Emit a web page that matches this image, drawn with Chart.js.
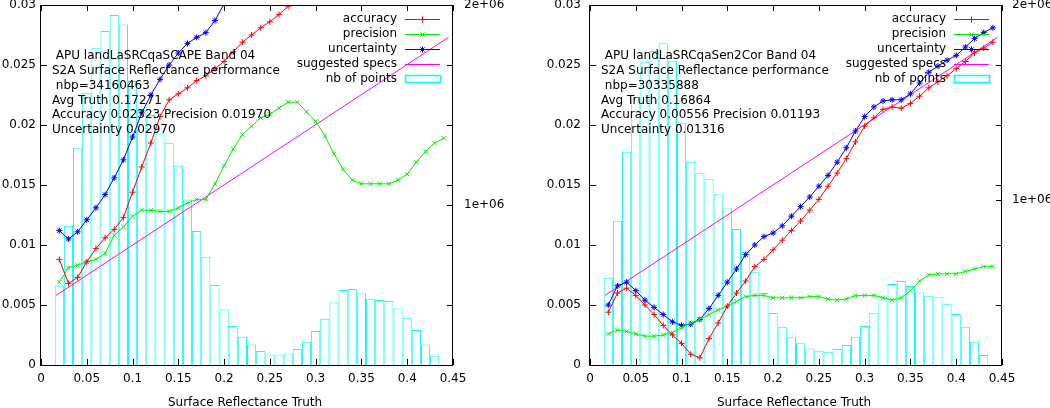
<!DOCTYPE html>
<html>
<head>
<meta charset="utf-8">
<script src="https://cdn.jsdelivr.net/npm/chart.js@4.4.1/dist/chart.umd.min.js"></script>
<style>
  html, body { margin: 0; padding: 0; background: #fff; }
  #wrap { display: flex; width: 1050px; height: 408px; }
  canvas { display: block; }
</style>
</head>
<body>
<div id="wrap">
  <canvas id="scape" width="525" height="408"></canvas>
  <canvas id="sen2cor" width="525" height="408"></canvas>
</div>
<script>
// reflectance truth (x) for the curves, and bin centres for the histogram
const truthX = [0.02, 0.03, 0.04, 0.05, 0.06, 0.07, 0.08, 0.09, 0.10, 0.11, 0.12, 0.13, 0.14, 0.15,
  0.16, 0.17, 0.18, 0.19, 0.20, 0.21, 0.22, 0.23, 0.24, 0.25, 0.26, 0.27, 0.28, 0.29, 0.30, 0.31,
  0.32, 0.33, 0.34, 0.35, 0.36, 0.37, 0.38, 0.39, 0.40, 0.41, 0.42, 0.43, 0.44];
const binX = truthX.slice(0, 42);

const xTicks = [0, 0.05, 0.1, 0.15, 0.2, 0.25, 0.3, 0.35, 0.4, 0.45];
const xTickLabels = ['0', '0.05', '0.1', '0.15', '0.2', '0.25', '0.3', '0.35', '0.4', '0.45'];
const yTicks = [0, 0.005, 0.01, 0.015, 0.02, 0.025, 0.03];
const yTickLabels = ['0', '0.005', '0.01', '0.015', '0.02', '0.025', '0.03'];
const y2Ticks = [1000000, 2000000];
const y2TickLabels = ['1e+06', '2e+06'];

const legendLabels = ['accuracy', 'precision', 'uncertainty', 'suggested specs', 'nb of points'];

// suggested specs line end points
const specX = [0.0165, 0.445];
const specY = [0.0058, 0.0273];

// --- left panel: LaSRC qa SCAPE ---
const scapeAccuracy = [0.0088, 0.0068, 0.0073, 0.0086, 0.0097, 0.0106, 0.0113, 0.0123, 0.0144, 0.0165,
  0.0185, 0.0207, 0.0221, 0.0226, 0.0231, 0.0237, 0.0241, 0.0247, 0.0253, 0.0261, 0.0269, 0.0275,
  0.0281, 0.0286, 0.0292, 0.0299, 0.0306];
const scapePrecision = [0.0069, 0.0081, 0.0083, 0.0086, 0.0088, 0.0093, 0.0108, 0.0115, 0.0124, 0.0129,
  0.0129, 0.0128, 0.0128, 0.0131, 0.0135, 0.0138, 0.0138, 0.0151, 0.0166, 0.0180, 0.0192, 0.0199,
  0.0206, 0.0209, 0.0214, 0.0219, 0.0219, 0.0211, 0.0203, 0.0191, 0.0176, 0.0163, 0.0154, 0.0151,
  0.0151, 0.0151, 0.0151, 0.0154, 0.0159, 0.0169, 0.0178, 0.0185, 0.0189];
const scapeUncertainty = [0.0112, 0.0105, 0.0111, 0.0121, 0.0131, 0.0142, 0.0156, 0.0171, 0.0190, 0.0210,
  0.0225, 0.0238, 0.0250, 0.0260, 0.0268, 0.0273, 0.0277, 0.0287, 0.0301, 0.0316];
const scapeCount = [596000, 896000, 1286000, 1561000, 1786000, 1870000, 1950000, 1903000, 1620000, 1475000,
  1450000, 1358000, 1311000, 1196000, 1028000, 870000, 741000, 600000, 478000, 395000, 341000, 303000,
  270000, 253000, 253000, 258000, 280000, 316000, 370000, 431000, 513000, 575000, 580000, 558000,
  531000, 525000, 520000, 483000, 436000, 375000, 303000, 246000];
const scapeInfo = [' APU landLaSRCqaSCAPE Band 04', 'S2A Surface Reflectance performance', ' nbp=34160463',
  'Avg Truth 0.17271', 'Accuracy 0.02323 Precision 0.01970', 'Uncertainty 0.02970'];

// --- right panel: LaSRC qa Sen2Cor ---
const sen2corAccuracy = [0.0044, 0.0060, 0.0064, 0.0058, 0.0050, 0.0042, 0.0033, 0.0025, 0.0018, 0.0009,
  0.0006, 0.0022, 0.0035, 0.0049, 0.0060, 0.0070, 0.0082, 0.0088, 0.0096, 0.0104, 0.0112, 0.0120,
  0.0129, 0.0138, 0.0149, 0.0160, 0.0172, 0.0186, 0.0199, 0.0206, 0.0213, 0.0215, 0.0214, 0.0218,
  0.0224, 0.0231, 0.0236, 0.0241, 0.0247, 0.0253, 0.0260, 0.0264, 0.0269];
const sen2corPrecision = [0.0026, 0.0029, 0.0028, 0.0026, 0.0024, 0.0024, 0.0025, 0.0027, 0.0031, 0.0035,
  0.0038, 0.0042, 0.0046, 0.0049, 0.0053, 0.0057, 0.0058, 0.0058, 0.0056, 0.0056, 0.0056, 0.0056,
  0.0057, 0.0057, 0.0055, 0.0054, 0.0055, 0.0058, 0.0058, 0.0058, 0.0056, 0.0054, 0.0056, 0.0062,
  0.0070, 0.0075, 0.0076, 0.0076, 0.0076, 0.0078, 0.0080, 0.0082, 0.0082];
const sen2corUncertainty = [0.0050, 0.0066, 0.0069, 0.0062, 0.0054, 0.0048, 0.0042, 0.0036, 0.0033, 0.0034,
  0.0038, 0.0047, 0.0058, 0.0069, 0.0080, 0.0092, 0.0100, 0.0107, 0.0110, 0.0116, 0.0124, 0.0132,
  0.0140, 0.0149, 0.0158, 0.0169, 0.0181, 0.0195, 0.0207, 0.0215, 0.0220, 0.0221, 0.0221, 0.0226,
  0.0235, 0.0244, 0.0249, 0.0254, 0.0258, 0.0265, 0.0272, 0.0277, 0.0281];
const sen2corCount = [601000, 894000, 1248000, 1516000, 1709000, 1764000, 1804000, 1714000, 1393000, 1196000,
  1137000, 1106000, 1029000, 957000, 851000, 735000, 632000, 523000, 420000, 350000, 296000, 265000,
  239000, 227000, 222000, 236000, 256000, 299000, 354000, 419000, 504000, 569000, 585000, 559000,
  525000, 509000, 504000, 465000, 415000, 350000, 273000, 205000];
const sen2corInfo = [' APU landLaSRCqaSen2Cor Band 04', 'S2A Surface Reflectance performance', ' nbp=30335888',
  'Avg Truth 0.16864', 'Accuracy 0.00556 Precision 0.01193', 'Uncertainty 0.01316'];

const FONT = { family: 'DejaVu Sans', size: 12 };
const FONT_CSS = '12px "DejaVu Sans"';
const RED = '#ff0000', GREEN = '#00ee00', BLUE = '#0000ff', MAGENTA = '#ff00ff', CYAN = '#00ffff';

Chart.defaults.color = '#000';

function pts(xs, ys) { return ys.map((v, i) => ({ x: xs[i], y: v })); }

// no label overflow padding: the plot frame is placed by the fixed box sizes
function noPad(s) { s.paddingTop = 0; s.paddingBottom = 0; s.paddingLeft = 0; s.paddingRight = 0; }

// gnuplot look: frame, inward ticks, key, label block, x title
const gnuplotDecor = {
  id: 'gnuplotDecor',
  afterDraw(chart, args, o) {
    const { ctx, chartArea: a, scales } = chart;
    ctx.save();
    ctx.strokeStyle = '#000';
    ctx.lineWidth = 1;
    ctx.beginPath();
    xTicks.forEach(v => {
      const px = Math.round(scales.x.getPixelForValue(v)) + 0.5;
      ctx.moveTo(px, a.bottom); ctx.lineTo(px, a.bottom - 6);
      ctx.moveTo(px, a.top); ctx.lineTo(px, a.top + 6);
    });
    yTicks.forEach(v => {
      const py = Math.round(scales.y.getPixelForValue(v)) + 0.5;
      ctx.moveTo(a.left, py); ctx.lineTo(a.left + 6, py);
      ctx.moveTo(a.right, py); ctx.lineTo(a.right - 6, py);
    });
    y2Ticks.forEach(v => {
      const py = Math.round(scales.y2.getPixelForValue(v)) + 0.5;
      ctx.moveTo(a.right, py); ctx.lineTo(a.right - 6, py);
    });
    ctx.stroke();
    ctx.strokeRect(Math.round(a.left) - 0.5, Math.round(a.top) + 0.5, Math.round(a.width), Math.round(a.height));

    ctx.font = FONT_CSS;
    ctx.fillStyle = '#000';

    // info text block
    ctx.textAlign = 'left';
    ctx.textBaseline = 'middle';
    o.info.forEach((t, i) => ctx.fillText(t, a.left + 11, a.top + 51 + i * 14.8));

    // key
    const tx = a.right - 56, s0 = a.right - 48, s1 = a.right - 13, sm = (s0 + s1) / 2;
    ctx.textAlign = 'right';
    legendLabels.forEach((t, i) => {
      const y = a.top + 13.5 + i * 15;
      ctx.fillStyle = '#000';
      ctx.fillText(t, tx, y);
      const ds = chart.data.datasets[i];
      ctx.strokeStyle = ds.borderColor;
      ctx.lineWidth = 1;
      if (ds.type === 'bar') {
        ctx.lineWidth = 1.5;
        ctx.beginPath();
        ctx.rect(s0 + 0.5, Math.round(y) - 3.5, s1 - s0, 7);
        ctx.stroke();
        return;
      }
      ctx.beginPath();
      ctx.moveTo(s0, Math.round(y) + 0.5); ctx.lineTo(s1, Math.round(y) + 0.5);
      ctx.stroke();
      if (ds.pointRadius > 0) {
        ctx.fillStyle = ds.borderColor;
        Chart.helpers.drawPoint(ctx, { pointStyle: ds.pointStyle, radius: ds.pointRadius, borderWidth: 1, rotation: 0 }, sm, Math.round(y) + 0.5);
      }
    });

    // x axis title
    ctx.textAlign = 'center';
    ctx.fillStyle = '#000';
    ctx.fillText('Surface Reflectance Truth', (a.left + a.right) / 2 - 2, 403);
    ctx.restore();
  }
};

function makePanel(id, p) {
  const curve = (label, values, color, style) => ({
    type: 'line', label, data: pts(truthX, values), yAxisID: 'y', order: 1,
    borderColor: color, backgroundColor: color, borderWidth: 1, tension: 0, fill: false,
    pointStyle: style, pointRadius: 3, pointBorderWidth: 1, pointHoverRadius: 3
  });
  return new Chart(document.getElementById(id), {
    type: 'bar',
    data: {
      datasets: [
        curve('accuracy', p.accuracy, RED, 'cross'),
        curve('precision', p.precision, GREEN, 'crossRot'),
        curve('uncertainty', p.uncertainty, BLUE, 'star'),
        { type: 'line', label: 'suggested specs', data: pts(specX, specY), yAxisID: 'y', order: 1,
          borderColor: MAGENTA, borderWidth: 1, pointRadius: 0, fill: false },
        // drawn first (highest order), white inside so the curves sit on top
        { type: 'bar', label: 'nb of points', data: pts(binX, p.count), yAxisID: 'y2', order: 2,
          borderColor: CYAN, backgroundColor: '#ffffff', borderWidth: 1, inflateAmount: 0,
          barPercentage: 1, categoryPercentage: 1 }
      ]
    },
    options: {
      responsive: false,
      animation: false,
      devicePixelRatio: 1,
      events: [],
      layout: { padding: { top: 5, left: 0, right: 0, bottom: 0 } },
      plugins: {
        legend: { display: false },
        tooltip: { enabled: false },
        gnuplotDecor: { info: p.info }
      },
      scales: {
        x: {
          type: 'linear', min: 0, max: 0.45, offset: false,
          afterBuildTicks: s => { s.ticks = xTicks.map(v => ({ value: v })); },
          afterFit: s => { s.height = 43; noPad(s); },
          ticks: { font: FONT, padding: 7, maxRotation: 0, autoSkip: false,
            callback: (v, i) => xTickLabels[i] },
          grid: { display: false, drawTicks: false },
          border: { display: false }
        },
        y: {
          position: 'left', min: 0, max: 0.03,
          afterBuildTicks: s => { s.ticks = yTicks.map(v => ({ value: v })); },
          afterFit: s => { s.width = p.leftW; noPad(s); },
          ticks: { font: FONT, padding: p.leftPad, callback: (v, i) => yTickLabels[i] },
          grid: { display: false, drawTicks: false },
          border: { display: false }
        },
        y2: {
          position: 'right', min: p.y2Min, max: 2000000,
          afterBuildTicks: s => { s.ticks = y2Ticks.map(v => ({ value: v })); },
          afterFit: s => { s.width = p.rightW; noPad(s); },
          ticks: { font: FONT, padding: p.rightPad, callback: (v, i) => y2TickLabels[i] },
          grid: { display: false, drawTicks: false },
          border: { display: false }
        }
      }
    },
    plugins: [gnuplotDecor]
  });
}

makePanel('scape', {
  accuracy: scapeAccuracy, precision: scapePrecision, uncertainty: scapeUncertainty,
  count: scapeCount, info: scapeInfo, y2Min: 200000,
  leftW: 41, rightW: 72, leftPad: 5, rightPad: 11
});
makePanel('sen2cor', {
  accuracy: sen2corAccuracy, precision: sen2corPrecision, uncertainty: sen2corUncertainty,
  count: sen2corCount, info: sen2corInfo, y2Min: 153846,
  leftW: 65, rightW: 48, leftPad: 9, rightPad: 10
});
</script>
</body>
</html>
